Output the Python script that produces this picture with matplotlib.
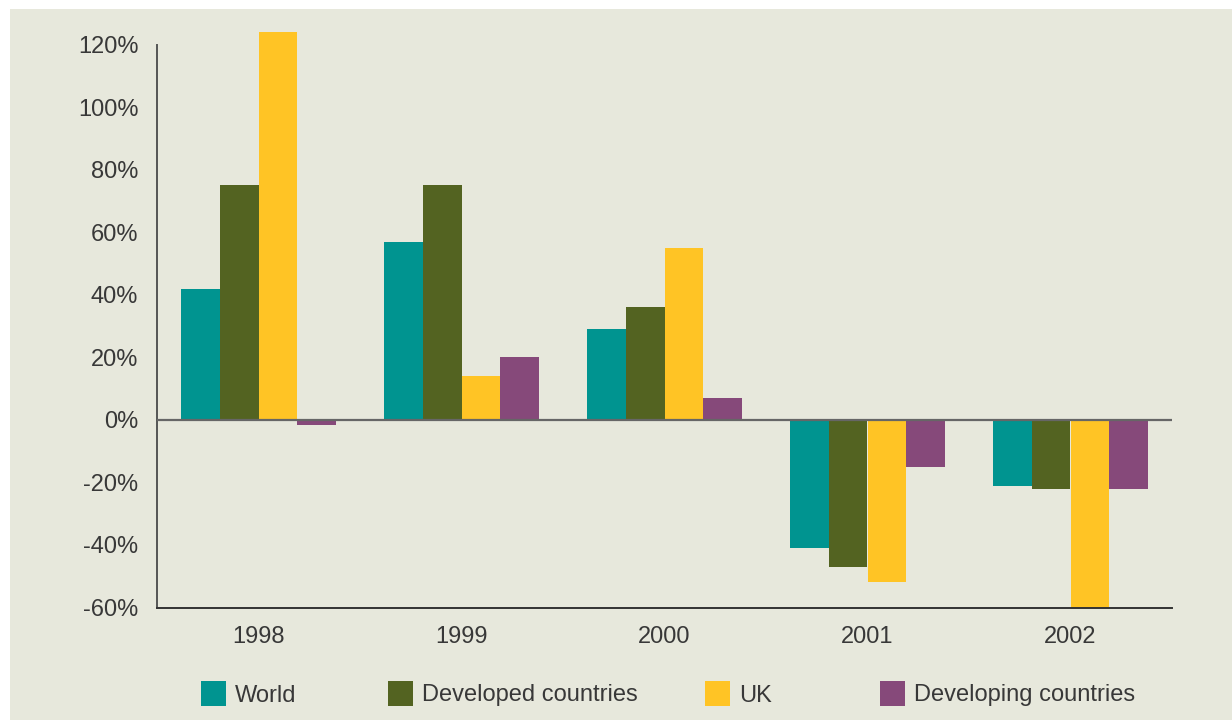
import matplotlib
matplotlib.use("Agg")
import matplotlib.pyplot as plt
from matplotlib.patches import Rectangle
import numpy as np

plt.rcParams['font.family'] = ['Liberation Sans', 'DejaVu Sans']

years = ["1998", "1999", "2000", "2001", "2002"]
series_names = ["World", "Developed countries", "UK", "Developing countries"]
world = [42, 57, 29, -41, -21]
developed = [75, 75, 36, -47, -22]
uk = [124, 14, 55, -52, -60]
developing = [-1.5, 20, 7, -15, -22]
colors = ["#009490", "#536321", "#FFC425", "#86497A"]
yticks = [-60, -40, -20, 0, 20, 40, 60, 80, 100, 120]

bg = "#E7E8DC"
txt = "#383838"

fig = plt.figure(figsize=(12.32, 7.2), dpi=100, facecolor="white")
fig.patches.append(Rectangle((10/1232, 0), 1 - 10/1232, 1 - 9/720,
                             transform=fig.transFigure, facecolor=bg,
                             edgecolor="none", zorder=-10))
ax = fig.add_axes([157/1232, 1 - 607.5/720, (1172-157)/1232, (607.5-28)/720])
ax.set_facecolor("none")

x = np.arange(len(years))
w = 0.19
data = [world, developed, uk, developing]
for i, (vals, c) in enumerate(zip(data, colors)):
    ax.bar(x + (i - 1.5) * w, vals, width=w, color=c, zorder=2, clip_on=False)

ax.set_xlim(-0.5, len(years) - 0.5)
ax.set_ylim(-60, 125.3)
ax.axhline(0, color="#666666", lw=1.6, zorder=3)

ax.set_yticks(yticks)
ax.set_yticklabels([f"{v}%" for v in yticks])
ax.set_xticks(x)
ax.set_xticklabels(years)
ax.tick_params(axis="both", length=0, labelsize=17, colors=txt)
ax.tick_params(axis="y", pad=13.5)
ax.tick_params(axis="x", pad=13.5)

for s in ["top", "right"]:
    ax.spines[s].set_visible(False)
ax.spines["left"].set_bounds(-60, 120)
ax.spines["left"].set_color("#555555")
ax.spines["left"].set_linewidth(1.4)
ax.spines["bottom"].set_color("#333333")
ax.spines["bottom"].set_linewidth(1.4)

# legend
patch_x = [201, 388, 705, 880]
for name, c, px in zip(series_names, colors, patch_x):
    fig.patches.append(Rectangle((px/1232, 1 - 706/720), 25/1232, 25/720,
                                 transform=fig.transFigure, facecolor=c,
                                 edgecolor="none"))
    fig.text((px + 34)/1232, 1 - 695.5/720, name, fontsize=17, color=txt,
             ha="left", va="center")

fig.savefig("out.png", dpi=100, facecolor="white")
